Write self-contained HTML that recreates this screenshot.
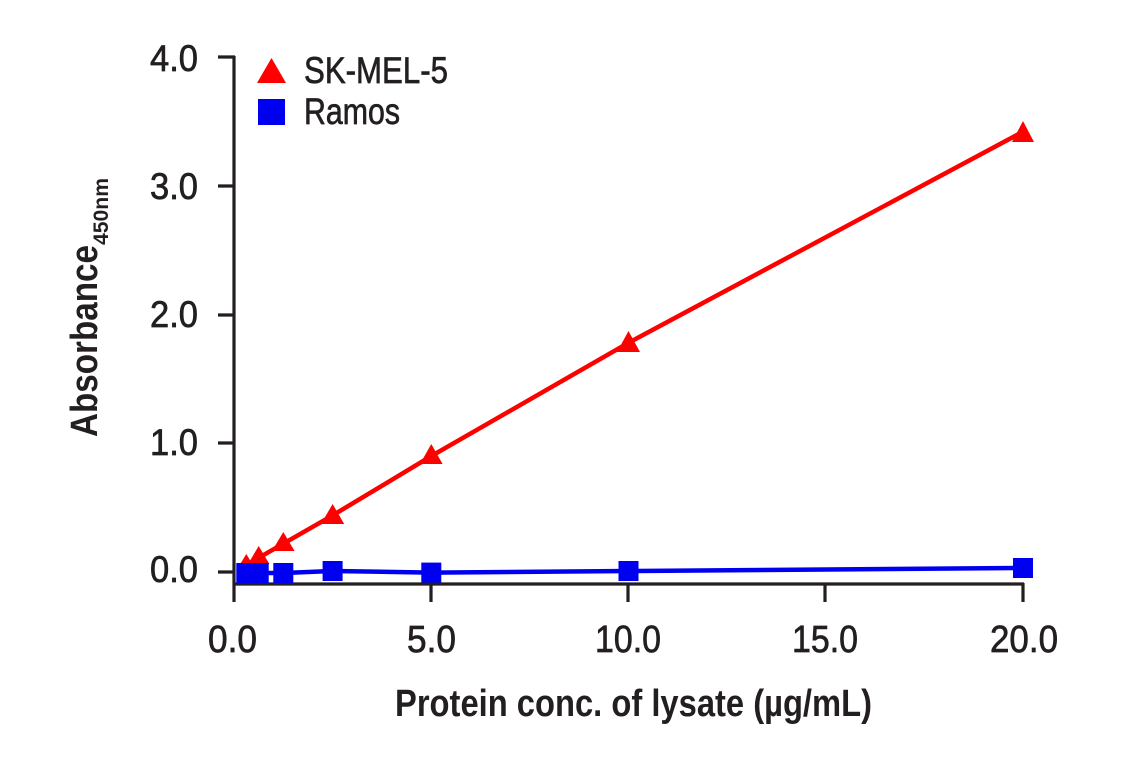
<!DOCTYPE html>
<html>
<head>
<meta charset="utf-8">
<style>
  html, body { margin: 0; padding: 0; background: #ffffff; }
  svg { display: block; }
  text { font-family: "Liberation Sans", Arial, sans-serif; fill: #231f20; }
</style>
</head>
<body>
<svg width="1141" height="768" viewBox="0 0 1141 768" xmlns="http://www.w3.org/2000/svg">
  <rect x="0" y="0" width="1141" height="768" fill="#ffffff"/>

  <!-- Axes -->
  <g stroke="#231f20" stroke-width="3.2" fill="none" stroke-linecap="butt">
    <line x1="234" y1="56" x2="234" y2="602"/>
    <line x1="233" y1="584" x2="1024" y2="584"/>
    <line x1="218" y1="57" x2="235" y2="57"/>
    <line x1="218" y1="186" x2="235" y2="186"/>
    <line x1="218" y1="315" x2="235" y2="315"/>
    <line x1="218" y1="443" x2="235" y2="443"/>
    <line x1="218" y1="572" x2="235" y2="572"/>
    <line x1="431" y1="583" x2="431" y2="602"/>
    <line x1="628" y1="583" x2="628" y2="602"/>
    <line x1="825" y1="583" x2="825" y2="602"/>
    <line x1="1023" y1="583" x2="1023" y2="602"/>
  </g>

  <!-- Y tick labels -->
  <g font-size="37" text-anchor="end" stroke="#231f20" stroke-width="0.7">
    <text x="198" y="71" textLength="48" lengthAdjust="spacingAndGlyphs">4.0</text>
    <text x="198" y="199" textLength="48" lengthAdjust="spacingAndGlyphs">3.0</text>
    <text x="198" y="327" textLength="48" lengthAdjust="spacingAndGlyphs">2.0</text>
    <text x="198" y="455" textLength="48" lengthAdjust="spacingAndGlyphs">1.0</text>
    <text x="198" y="582" textLength="48" lengthAdjust="spacingAndGlyphs">0.0</text>
  </g>

  <!-- X tick labels -->
  <g font-size="38" stroke="#231f20" stroke-width="0.7">
    <text x="208" y="652" textLength="49" lengthAdjust="spacingAndGlyphs">0.0</text>
    <text x="407" y="652" textLength="49" lengthAdjust="spacingAndGlyphs">5.0</text>
    <text x="595" y="652" textLength="66" lengthAdjust="spacingAndGlyphs">10.0</text>
    <text x="792" y="652" textLength="66" lengthAdjust="spacingAndGlyphs">15.0</text>
    <text x="990" y="652" textLength="68" lengthAdjust="spacingAndGlyphs">20.0</text>
  </g>

  <!-- X axis title -->
  <text x="395" y="716" font-size="38" font-weight="bold" textLength="477" lengthAdjust="spacingAndGlyphs">Protein conc. of lysate (µg/mL)</text>

  <!-- Y axis title -->
  <text transform="translate(97,437) rotate(-90)" x="0" y="0" font-size="38" font-weight="bold" textLength="192" lengthAdjust="spacingAndGlyphs">Absorbance</text>
  <text transform="translate(108,245) rotate(-90)" x="0" y="0" font-size="21" font-weight="bold" textLength="67" lengthAdjust="spacingAndGlyphs">450nm</text>

  <!-- Red series (SK-MEL-5) -->
  <polyline fill="none" stroke="#ff0000" stroke-width="4.5" stroke-linejoin="round"
    points="246.3,565.6 258.7,557.8 283.3,543.7 332.6,515.4 431.3,456.1 628.5,342.8 1023,131.7"/>
  <g fill="#ff0000">
    <polygon points="246.3,554 236,571 256.6,571"/>
    <polygon points="258.7,546 248,564 269.4,564"/>
    <polygon points="283.3,532 272,551 294.6,551"/>
    <polygon points="332.6,504 321,524 344.2,524"/>
    <polygon points="431.3,444 420,464 442.6,464"/>
    <polygon points="628.5,331 617,352 640,352"/>
    <polygon points="1023,121 1012,142 1034,142"/>
  </g>

  <!-- Blue series (Ramos) -->
  <polyline fill="none" stroke="#0000f0" stroke-width="4.5" stroke-linejoin="round"
    points="246.3,573 258.7,573 283.3,573 332.6,571 431.3,572.6 628.5,571 1023,568"/>
  <g fill="#0000f0">
    <rect x="236.3" y="563" width="20" height="20"/>
    <rect x="248.7" y="563" width="20" height="20"/>
    <rect x="273.3" y="563" width="20" height="20"/>
    <rect x="322.6" y="561" width="20" height="20"/>
    <rect x="421.3" y="562.6" width="20" height="20"/>
    <rect x="618.5" y="561" width="20" height="20"/>
    <rect x="1013" y="558" width="20" height="20"/>
  </g>

  <!-- Legend -->
  <polygon points="271.5,58 257,83 286,83" fill="#ff0000"/>
  <rect x="258" y="99" width="27" height="26" fill="#0000f0"/>
  <g font-size="37" stroke="#231f20" stroke-width="0.7">
    <text x="304" y="83" textLength="144" lengthAdjust="spacingAndGlyphs">SK-MEL-5</text>
    <text x="304" y="124" textLength="96" lengthAdjust="spacingAndGlyphs">Ramos</text>
  </g>
</svg>
</body>
</html>
